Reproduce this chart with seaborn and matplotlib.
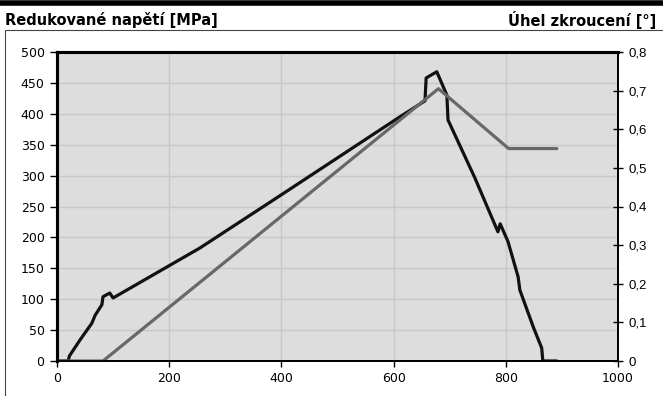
"""
Redukované napětí a úhel zkroucení
"""

import pandas as pd
import matplotlib.pyplot as plt
import seaborn as sns

# ---------------------------------------------------------------------------
# Data
# ---------------------------------------------------------------------------

stress_x = [0, 20, 22, 41, 62, 68, 80, 82, 94, 100, 255, 400, 611, 656,
            658, 677, 695, 697, 745, 786, 790, 804, 822, 825, 849, 864, 866, 891]
stress_y = [0, 0, 8, 34, 61, 74, 91, 104, 110, 102, 183, 269, 395, 421,
            458, 468, 430, 390, 296, 209, 222, 193, 136, 115, 55, 21, 0, 0]

angle_x = [0, 82, 680, 805, 891]
angle_y = [0, 0, 0.705, 0.55, 0.55]

x_ticks = [0, 200, 400, 600, 800, 1000]
left_ticks = list(range(0, 501, 50))
right_ticks = [0, 0.1, 0.2, 0.3, 0.4, 0.5, 0.6, 0.7, 0.8]
right_labels = ["0", "0,1", "0,2", "0,3", "0,4", "0,5", "0,6", "0,7", "0,8"]

stress = pd.DataFrame({"x": stress_x, "y": stress_y})
angle = pd.DataFrame({"x": angle_x, "y": angle_y})

# ---------------------------------------------------------------------------
# Plot
# ---------------------------------------------------------------------------

sns.set_style("white")
plt.rcParams["font.family"] = ["DejaVu Sans"]
plt.rcParams["text.color"] = "black"

fig = plt.figure(figsize=(6.63, 3.96), dpi=100)
ax = fig.add_axes([57 / 663, 1 - 361 / 396, 561 / 663, 309 / 396])
ax.set_facecolor("#dddddd")

sns.lineplot(data=stress, x="x", y="y", ax=ax, color="#111111",
             linewidth=2.3, sort=False, estimator=None)
ax.set_xlim(0, 1000)
ax.set_ylim(0, 500)
ax.set_xticks(x_ticks)
ax.set_yticks(left_ticks)
ax.set_xlabel("")
ax.set_ylabel("")
ax.grid(True, color="#c8c8c8", linewidth=1)
ax.set_axisbelow(True)
ax.tick_params(axis="y", direction="out", length=5, width=1, color="black",
               labelcolor="black", labelsize=9, pad=4, left=True)
ax.tick_params(axis="x", direction="out", length=4, width=1, color="black",
               labelcolor="black", labelsize=9, pad=4, bottom=True)

ax2 = ax.twinx()
sns.lineplot(data=angle, x="x", y="y", ax=ax2, color="#686868",
             linewidth=2.3, sort=False, estimator=None)
ax2.set_ylim(0, 0.8)
ax2.set_yticks(right_ticks)
ax2.set_yticklabels(right_labels, family="Liberation Sans")
ax2.set_ylabel("")
ax2.tick_params(axis="y", direction="inout", length=7, width=1, color="black",
                labelcolor="black", labelsize=9.5, pad=4, right=True)

for a in (ax, ax2):
    for side in ("bottom", "right"):
        a.spines[side].set_color("black")
        a.spines[side].set_linewidth(1.3)
    for side in ("top", "left"):
        a.spines[side].set_color("black")
        a.spines[side].set_linewidth(2.2)

# top bar, frame and titles
fig.add_artist(plt.Line2D([0, 1], [1 - 2.5 / 396, 1 - 2.5 / 396],
                          transform=fig.transFigure, color="black", linewidth=4))
fig.add_artist(plt.Rectangle((5 / 663, -0.1), 1.2, 1 - 30 / 396 + 0.1,
                             transform=fig.transFigure, fill=False,
                             edgecolor="#444444", linewidth=0.8))
fig.text(5 / 663, 1 - 20 / 396, "Redukované napětí [MPa]", fontsize=10.5,
         fontweight="bold", ha="left", va="center", color="black")
fig.text(656 / 663, 1 - 20 / 396, "Úhel zkroucení [°]", fontsize=10.5,
         fontweight="bold", ha="right", va="center", color="black")

fig.savefig("out.png", dpi=100)
plt.close(fig)
